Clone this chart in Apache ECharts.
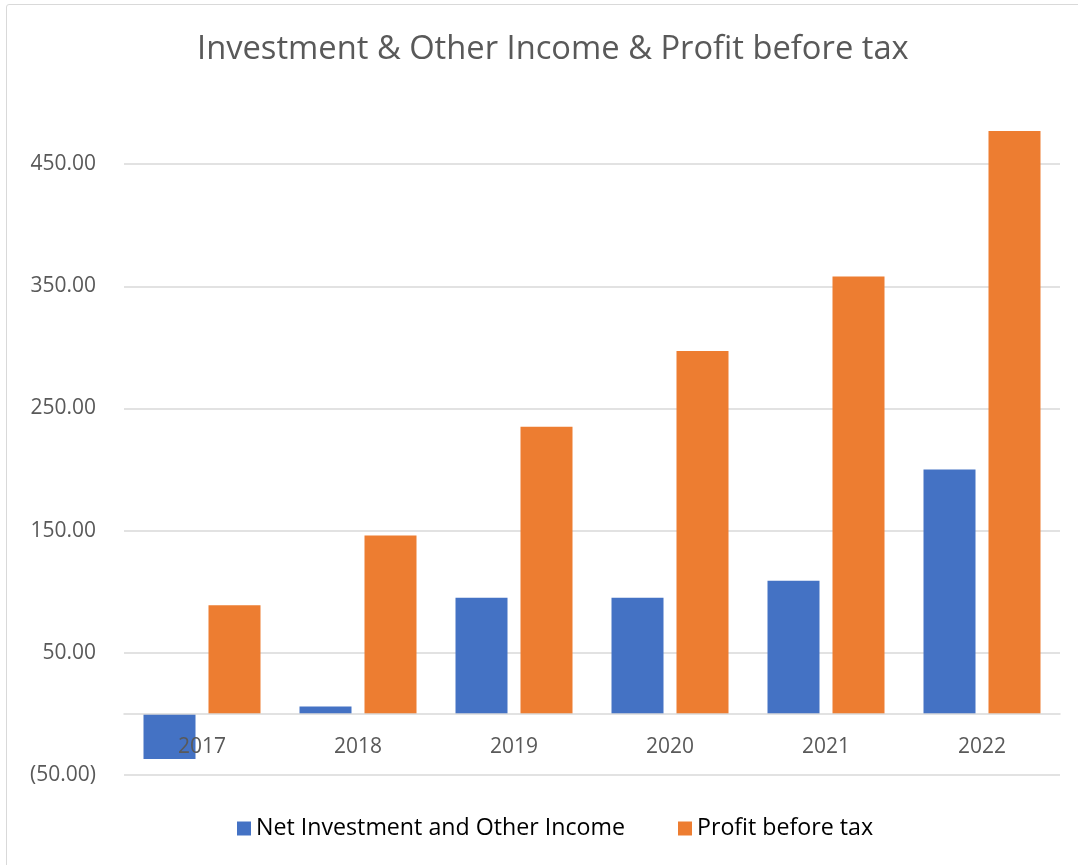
<!DOCTYPE html>
<html>
<head>
<meta charset="utf-8">
<script src="https://cdn.jsdelivr.net/npm/echarts@6/dist/echarts.min.js"></script>
<style>
html,body{margin:0;padding:0;background:#fff;}
#frame{position:absolute;left:6px;top:4px;width:1090px;height:880px;border:1.5px solid #d9d9d9;border-radius:3px;box-sizing:border-box;}
#chart{position:absolute;left:0;top:0;width:1078px;height:865px;}
</style>
</head>
<body>
<div id="frame"></div>
<div id="chart"></div>
<script>
const categories = ['2017','2018','2019','2020','2021','2022'];
const netInvestment = [-37, 6, 95, 95, 109, 200];
const profitBeforeTax = [89, 146, 235, 297, 358, 477];
const seriesNames = ['Net Investment and Other Income', 'Profit before tax'];
const titleText = 'Investment & Other Income & Profit before tax';

const chart = echarts.init(document.getElementById('chart'), null, {renderer:'canvas'});
const fontFam = '"Open Sans", "Noto Sans", sans-serif';
function fmt(v){
  const s = Math.abs(v).toFixed(2);
  return v < 0 ? '(' + s + ')' : s;
}
chart.setOption({
  animation:false,
  backgroundColor:'transparent',
  title:{
    text:titleText,
    left:192,
    top:28,
    textStyle:{fontFamily:fontFam,fontSize:32.7,fontWeight:'normal',color:'#595959'}
  },
  legend:{
    bottom:20,
    left:232,
    itemWidth:14,
    itemHeight:14,
    itemGap:53,
    icon:'rect',
    textStyle:{fontFamily:fontFam,fontSize:23.2,color:'#000'},
    data:seriesNames
  },
  grid:{left:124,right:18,top:103,bottom:90,containLabel:false},
  xAxis:{
    type:'category',
    data:categories,
    z:5,
    axisLine:{onZero:true,lineStyle:{color:'#d9d9d9',width:1.5}},
    axisTick:{show:false},
    axisLabel:{fontFamily:fontFam,fontSize:21,color:'#595959',margin:-38}
  },
  yAxis:{
    type:'value',
    min:-50,
    max:500,
    interval:100,
    axisLine:{show:false},
    axisTick:{show:false},
    splitLine:{show:true,showMaxLine:false,lineStyle:{color:'#d9d9d9',width:1.5}},
    axisLabel:{fontFamily:fontFam,fontSize:21,color:'#595959',margin:28,showMaxLabel:false,formatter:fmt}
  },
  series:[
    {name:seriesNames[0],type:'bar',data:netInvestment,barGap:'25%',barCategoryGap:'25%',itemStyle:{color:'#4472c4'}},
    {name:seriesNames[1],type:'bar',data:profitBeforeTax,barGap:'25%',barCategoryGap:'25%',itemStyle:{color:'#ed7d31'}}
  ]
});
</script>
</body>
</html>
